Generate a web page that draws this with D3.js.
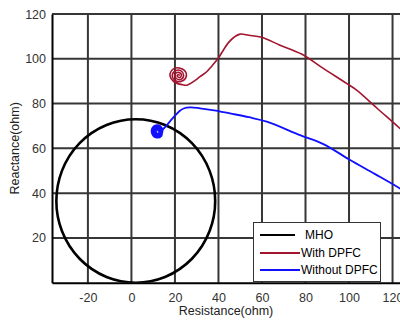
<!DOCTYPE html>
<html>
<head>
<meta charset="utf-8">
<script src="https://cdn.jsdelivr.net/npm/d3@7"></script>
<style>
  body { margin: 0; background: #fff; }
  text { font-family: "Liberation Sans", Arial, sans-serif; }
</style>
</head>
<body>
<div id="chart"></div>
<script>
// axis ticks
var xTicks = [-20, 0, 20, 40, 60, 80, 100, 120];
var yTicks = [20, 40, 60, 80, 100, 120];

// mho relay circle (center R, center X, radius)
var mhoCenter = [2, 36.5];
var mhoRadius = 36.5;

// impedance trajectory with DPFC (R, X)
var withR = [130, 123.4, 113, 103.5, 98.9, 88, 78.2, 68, 59.9, 54, 49.9, 47, 44.5, 42, 39.9, 37, 34.6, 31.5, 28.5, 25.5, 23.5,
  20.5, 18.3, 17.8, 19.5, 22.5, 25, 24.8, 22.5, 19.8, 18.8, 20.3, 22.8, 24, 22.8, 20.6, 20, 21.5, 23, 22.3, 21, 21.6, 22.2];
var withX = [63, 68.9, 77.8, 86, 89, 95.8, 102.1, 106.2, 109.6, 110.5, 111, 109.5, 107.1, 103.5, 100.2, 96.8, 94.2, 92, 89.8, 88.2, 88.4,
  89.2, 91, 93.5, 95.6, 95.8, 94, 91.2, 89.8, 90.5, 92.8, 94.7, 94.6, 92.6, 90.8, 91.2, 93, 94, 93, 91.6, 92.3, 93, 92.5];

// impedance trajectory without DPFC (R, X)
var withoutR = [130, 123.4, 112, 100.5, 88.2, 77.5, 62.2, 54, 45.3, 38, 31.5, 27, 24, 22.3, 19, 16, 14.3,
  13.8, 11.5, 9.6, 9.7, 12, 14, 13.9, 12, 10.2, 10.4, 12.2, 13.5, 13.2, 11.7, 10.6, 11.2, 12.6, 13, 12.2, 11.3, 11.7, 12.4, 12.1];
var withoutX = [38, 42.1, 48.5, 54.8, 61.9, 65.9, 71.9, 73.9, 75.6, 77, 77.9, 78.3, 77.8, 76.8, 73.5, 70, 68.2,
  65.6, 64.8, 66.4, 69.2, 70.4, 69, 66.5, 65.4, 66.8, 68.9, 69.7, 68.3, 66.5, 66, 67.4, 68.9, 68.9, 67.5, 66.6, 67.3, 68.4, 68.1, 67.5];

var legendNames = ["MHO", "With DPFC", "Without DPFC"];
var colors = ["#000000", "#a3142e", "#1010ff"];

var width = 400, height = 325;
var plotLeft = 52, plotTop = 14, plotRight = 414.3, plotBottom = 282.7;

var svg = d3.select("#chart").append("svg")
    .attr("width", width)
    .attr("height", height)
    .style("display", "block");

var x = d3.scaleLinear().domain([-36.5, 130]).range([plotLeft, plotRight]);
var y = d3.scaleLinear().domain([0, 120]).range([plotBottom, plotTop]);

svg.append("defs").append("clipPath").attr("id", "clip")
  .append("rect")
    .attr("x", plotLeft).attr("y", plotTop)
    .attr("width", plotRight - plotLeft).attr("height", plotBottom - plotTop);

// grid
var grid = svg.append("g").attr("stroke", "#363636").attr("stroke-width", 2);
grid.selectAll(".vg").data(xTicks).enter().append("line")
    .attr("x1", d => x(d)).attr("x2", d => x(d))
    .attr("y1", plotTop).attr("y2", plotBottom);
grid.selectAll(".hg").data(yTicks).enter().append("line")
    .attr("x1", plotLeft).attr("x2", plotRight)
    .attr("y1", d => y(d)).attr("y2", d => y(d));

// axes
var xAxis = svg.append("g")
    .attr("transform", "translate(0," + plotBottom + ")")
    .call(d3.axisBottom(x).tickValues(xTicks).tickSize(0).tickPadding(10).tickFormat(d => String(d)));
var yAxis = svg.append("g")
    .attr("transform", "translate(" + plotLeft + ",0)")
    .call(d3.axisLeft(y).tickValues(yTicks).tickSize(0).tickPadding(6).tickFormat(d => String(d)));
[xAxis, yAxis].forEach(function (a) {
    a.select(".domain").attr("stroke", "#000").attr("stroke-width", 2);
    a.selectAll("text").attr("font-size", "12.5px").attr("fill", "#333")
        .attr("font-family", "'Liberation Sans', Arial, sans-serif");
});

svg.append("text")
    .attr("x", 226)
    .attr("y", 314.5)
    .attr("text-anchor", "middle")
    .attr("font-size", "12.5px")
    .attr("fill", "#222")
    .text("Resistance(ohm)");

svg.append("text")
    .attr("transform", "translate(19," + ((plotTop + plotBottom) / 2) + ") rotate(-90)")
    .attr("text-anchor", "middle")
    .attr("font-size", "12.5px")
    .attr("fill", "#222")
    .text("Reactance(ohm)");

var plot = svg.append("g").attr("clip-path", "url(#clip)");

// mho circle
plot.append("ellipse")
    .attr("cx", x(mhoCenter[0]))
    .attr("cy", y(mhoCenter[1]))
    .attr("rx", x(mhoCenter[0] + mhoRadius) - x(mhoCenter[0]))
    .attr("ry", y(0) - y(mhoRadius))
    .attr("fill", "none")
    .attr("stroke", colors[0])
    .attr("stroke-width", 2.6);

var line = d3.line().x(d => x(d[0])).y(d => y(d[1])).curve(d3.curveCatmullRom);

plot.append("path")
    .datum(withR.map((r, i) => [r, withX[i]]))
    .attr("d", line)
    .attr("fill", "none")
    .attr("stroke", colors[1])
    .attr("stroke-width", 1.6);

plot.append("path")
    .datum(withoutR.map((r, i) => [r, withoutX[i]]))
    .attr("d", line)
    .attr("fill", "none")
    .attr("stroke", colors[2])
    .attr("stroke-width", 1.8);

// legend
var lg = svg.append("g");
lg.append("rect")
    .attr("x", 253.5).attr("y", 222.5)
    .attr("width", 127).attr("height", 59)
    .attr("fill", "#fff")
    .attr("stroke", "#333").attr("stroke-width", 1);

var rows = lg.selectAll(".row").data(legendNames).enter().append("g")
    .attr("transform", (d, i) => "translate(0," + [235, 253, 270][i] + ")");
rows.append("line")
    .attr("x1", 260).attr("x2", (d, i) => i === 0 ? 295 : 300)
    .attr("stroke", (d, i) => colors[i])
    .attr("stroke-width", 2);
rows.append("text")
    .attr("x", (d, i) => i === 0 ? 305 : 301)
    .attr("dy", "0.35em")
    .attr("font-size", "12px")
    .attr("fill", "#000")
    .text(d => d);
</script>
</body>
</html>
